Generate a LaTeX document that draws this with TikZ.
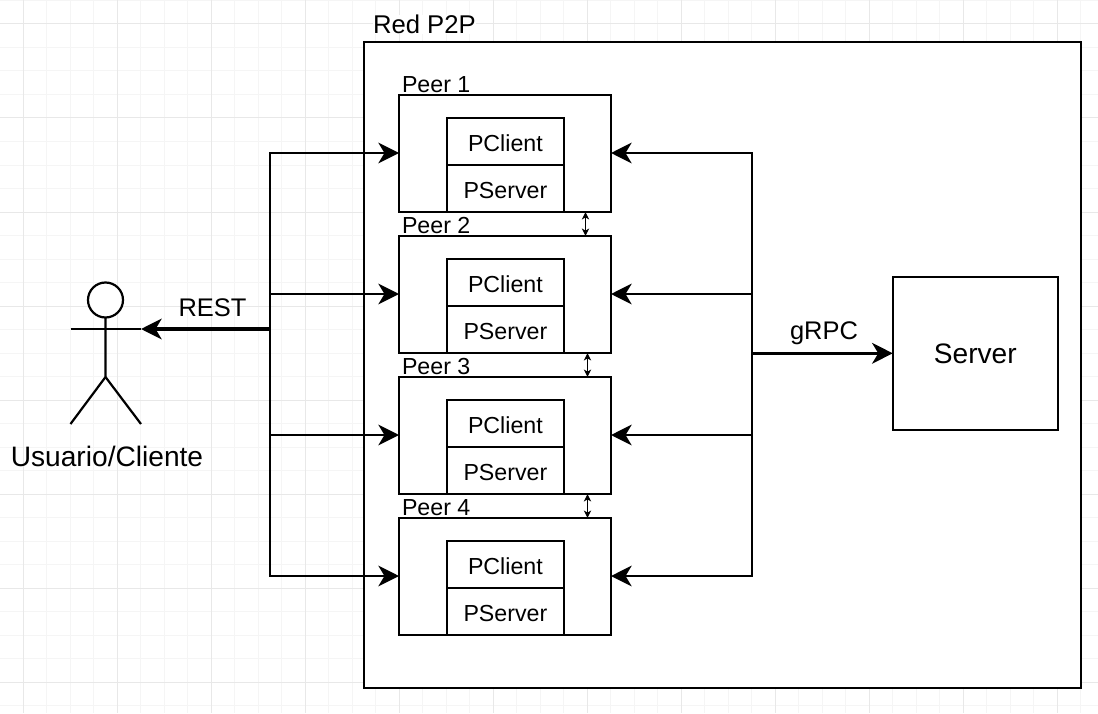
\documentclass[tikz,border=0pt]{standalone}
\usepackage{fontspec}
\setmainfont{Liberation Sans}
\usetikzlibrary{arrows.meta}
\tikzset{
  x=0.75pt,y=-0.75pt,
  boxn/.style={draw=black,line width=1.65pt,fill=white,inner sep=0pt,outer sep=0pt,font=\fontsize{17.4pt}{20pt}\selectfont},
  innerbox/.style={boxn,minimum width=88pt,minimum height=35.2pt,text height=15pt,text depth=0pt},
  lab/.style={inner sep=0pt,outer sep=0pt,text=black},
  peerlab/.style={lab,anchor=base west,font=\fontsize{17.4pt}{20pt}\selectfont},
  midlab/.style={lab,anchor=base,font=\fontsize{19.1pt}{22pt}\selectfont},
  biglab/.style={lab,anchor=base,font=\fontsize{21.1pt}{24pt}\selectfont},
  flow/.style={draw=black,line width=1.65pt,-{Stealth[length=15.5pt,width=15.5pt,inset=4.6pt]}},
  thickflow/.style={flow,line width=2.4pt},
  tiny/.style={draw=black,line width=0.75pt,{Stealth[length=5.5pt,width=5.5pt,inset=1.6pt]}-{Stealth[length=5.5pt,width=5.5pt,inset=1.6pt]}},
  actorline/.style={draw=black,line width=1.65pt},
  gminor/.style={draw=black!4,line width=0.75pt},
  gmajor/.style={draw=black!9,line width=0.75pt},
}
\begin{document}
\begin{tikzpicture}
\useasboundingbox (0,0) rectangle (1098,713);
\fill[white] (0,0) rectangle (1098,713);
% grid
\foreach \i in {0,...,46}{
  \draw[gminor] ({-0.2+23.5*\i},0) -- ({-0.2+23.5*\i},713);
  \draw[gminor] (0,{0.5+23.5*\i}) -- (1098,{0.5+23.5*\i});
}
\foreach \i in {0,...,11}{
  \draw[gmajor] ({23.3+94*\i},0) -- ({23.3+94*\i},713);
  \draw[gmajor] (0,{24+94*\i}) -- (1098,{24+94*\i});
}
% network box
\node[boxn,minimum width=537.75pt,minimum height=484.5pt] (net) at (722.5,365) {};
\node[lab,anchor=base west,fill=white,font=\fontsize{19.25pt}{22pt}\selectfont] (netl) at (373,33.5) {Red P2P};
% peers
\foreach \n/\cy in {1/153,2/294,3/435,4/576}{
  \node[boxn,minimum width=158.6pt,minimum height=88pt] (p\n) at (505,{\cy+0.5}) {};
  \node[innerbox] (c\n) at (505.4,{\cy-11.5}) {PClient};
  \node[innerbox] (s\n) at (505.4,{\cy+35.5}) {PServer};
  \node[peerlab,fill=white] (l\n) at (402,{\cy-60.5}) {Peer \n};
  \coordinate (wp\n) at (399,\cy);
  \coordinate (ep\n) at (611,\cy);
}
% server
\node[boxn,minimum width=123.75pt,minimum height=114.75pt,font=\fontsize{21.1pt}{24pt}\selectfont,text height=16pt,text depth=0pt] (srv) at (975.3,353.3) {Server};
% actor
\node[draw=black,line width=1.65pt,circle,fill=white,minimum size=26.25pt,inner sep=0pt,outer sep=0pt] (head) at (105.5,300) {};
\coordinate (arml) at (70.5,329);
\coordinate (armr) at (141,329);
\coordinate (hip) at (105.5,377);
\coordinate (legl) at (70.5,424);
\coordinate (legr) at (141,424);
\draw[actorline] (arml) -- (armr);
\draw[actorline] (head.south) -- (hip) -- (legl);
\draw[actorline] (hip) -- (legr);
\node[biglab] (user) at (107,466) {Usuario/Cliente};
% connectors
\coordinate (lbus) at (270,329);
\coordinate (rbus) at (752,353.3);
\foreach \n in {1,2,3,4}{
  \draw[flow] (lbus) |- (wp\n);
  \draw[flow] (rbus) |- (ep\n);
}
\draw[thickflow] (lbus) -- (armr);
\draw[thickflow] (rbus) -- (srv.west);
\node[midlab] (rest) at (212.5,316) {REST};
\node[midlab] (grpc) at (824,339) {gRPC};
% peer links
\coordinate (t12) at (585.5,224);
\coordinate (t23) at (587.5,365);
\coordinate (t34) at (587.5,506);
\draw[tiny] (p1.south -| t12) -- (p2.north -| t12);
\draw[tiny] (p2.south -| t23) -- (p3.north -| t23);
\draw[tiny] (p3.south -| t34) -- (p4.north -| t34);
\end{tikzpicture}
\end{document}
